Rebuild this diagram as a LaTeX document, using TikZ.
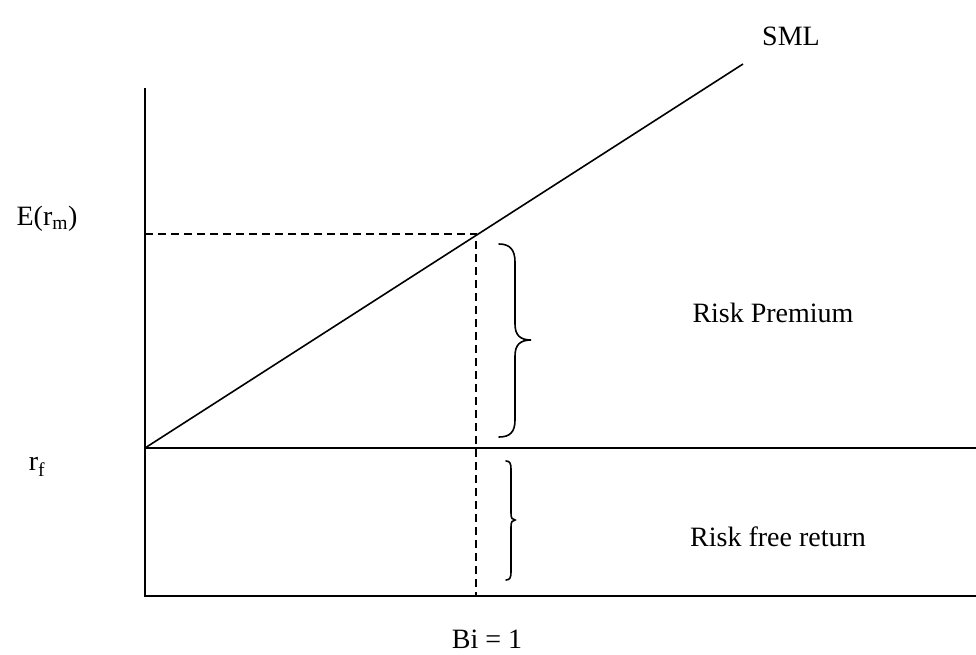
\documentclass[tikz,border=0pt]{standalone}
\usepackage{fontspec}
\setmainfont{Liberation Serif}
\begin{document}
\begin{tikzpicture}[x=1pt,y=-1pt,
  lbl/.style={font=\fontsize{28}{32}\selectfont, inner sep=0pt},
  axis/.style={line width=2pt},
  sml/.style={line width=1.6pt},
  guide/.style={line width=1.6pt, dash pattern=on 8pt off 5pt},
  bracestyle/.style={line width=1.6pt, line cap=round}]
\useasboundingbox (0,0) rectangle (976,655);
% coordinates
\coordinate (ytop) at (145,88);
\coordinate (O) at (145,596);
\coordinate (xend) at (976,596);
\coordinate (rfl) at (145,448);
\coordinate (rfr) at (976,448);
\coordinate (smlend) at (743,64);
\coordinate (M) at (476,234);
\coordinate (Mleft) at (145,234);
\coordinate (Mbase) at (476,596);
% axes
\draw[axis] (ytop) -- (O) -- (xend);
\draw[axis] (rfl) -- (rfr);
% SML
\draw[sml] (rfl) -- (smlend);
% dashed guides
\draw[guide] (Mleft) -- (M) -- (Mbase);
% braces
\draw[bracestyle] (499,244) .. controls (510,244) and (515,250) .. (515,262) -- (515,324)
  .. controls (515,335) and (520,340) .. (531,340)
  .. controls (520,340) and (515,345) .. (515,356) -- (515,420)
  .. controls (515,432) and (510,437) .. (499,437);
\draw[bracestyle] (506,461) .. controls (510,461) and (511,464) .. (511,469) -- (511,513)
  .. controls (511,518) and (512,520) .. (515,520)
  .. controls (512,520) and (511,522) .. (511,527) -- (511,572)
  .. controls (511,577) and (510,580) .. (506,580);
% labels
\node[lbl] (tsml) at (791,36) {SML};
\node[lbl] (tEm) at (47,219) {E(r\textsubscript{m})};
\node[lbl] (trf) at (37,467) {r\textsubscript{f}};
\node[lbl] (trp) at (773,313) {Risk Premium};
\node[lbl] (trfr) at (778,537) {Risk free return};
\node[lbl] (tbi) at (487,639) {Bi = 1};
\end{tikzpicture}
\end{document}
